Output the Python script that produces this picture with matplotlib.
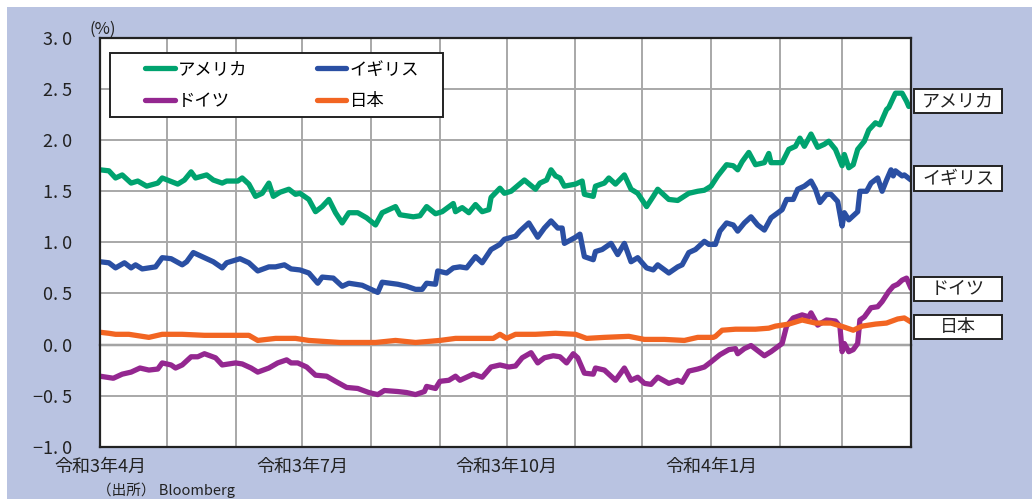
import matplotlib
matplotlib.use("Agg")
import matplotlib.dates as mdates
import matplotlib.pyplot as plt
import matplotlib.transforms as mtransforms
import pandas as pd
from matplotlib.patches import Rectangle
from matplotlib.ticker import FuncFormatter, MultipleLocator, NullFormatter

plt.rcParams["font.family"] = ["Noto Sans CJK JP", "DejaVu Sans"]

START = pd.Timestamp("2021-04-01")
END = pd.Timestamp("2022-04-01")

# days since 2021-04-01, 10-year government bond yields (%)
us_days = [0, 4, 7, 10, 14, 17, 21, 26, 28, 35, 38, 41, 43, 48, 51, 55, 57, 62, 64, 67,
           70, 73, 76, 78, 81, 85, 88, 90, 94, 97, 100, 103, 106, 109, 112, 116, 120, 124,
           127, 130, 133, 135, 141, 144, 147, 151, 154, 159, 160, 163, 166, 169, 172, 175,
           176, 180, 182, 185, 191, 196, 198, 201, 203, 205, 207, 209, 214, 217, 218, 222,
           223, 227, 229, 232, 236, 239, 242, 246, 249, 251, 256, 260, 265, 269, 272, 275,
           278, 282, 285, 287, 289, 292, 295, 299, 301, 302, 307, 310, 313, 315, 317, 320,
           323, 326, 328, 331, 334, 335, 337, 339, 341, 344, 346, 349, 351, 354, 355, 358,
           361, 363, 364]
us_yield = [1.71, 1.70, 1.63, 1.66, 1.58, 1.60, 1.55, 1.58, 1.63, 1.57, 1.61, 1.69, 1.63,
            1.66, 1.61, 1.58, 1.60, 1.60, 1.63, 1.57, 1.45, 1.48, 1.58, 1.45, 1.49, 1.52,
            1.47, 1.48, 1.42, 1.30, 1.35, 1.42, 1.29, 1.19, 1.29, 1.29, 1.24, 1.17, 1.29,
            1.32, 1.35, 1.27, 1.25, 1.26, 1.35, 1.28, 1.30, 1.38, 1.30, 1.34, 1.29, 1.37,
            1.30, 1.32, 1.44, 1.53, 1.48, 1.50, 1.61, 1.52, 1.58, 1.61, 1.71, 1.65, 1.63,
            1.55, 1.57, 1.60, 1.47, 1.45, 1.55, 1.58, 1.63, 1.57, 1.66, 1.52, 1.48, 1.35,
            1.45, 1.52, 1.42, 1.41, 1.48, 1.50, 1.51, 1.55, 1.65, 1.76, 1.75, 1.71, 1.79,
            1.88, 1.76, 1.78, 1.87, 1.78, 1.78, 1.91, 1.94, 2.02, 1.94, 2.06, 1.93, 1.96,
            1.99, 1.91, 1.75, 1.86, 1.73, 1.76, 1.91, 1.99, 2.10, 2.17, 2.15, 2.30, 2.32,
            2.46, 2.46, 2.38, 2.33]

uk_days = [0, 4, 7, 11, 14, 16, 19, 25, 28, 32, 37, 39, 42, 46, 51, 55, 57, 63, 67, 71,
           76, 79, 83, 86, 90, 94, 98, 100, 105, 109, 112, 118, 122, 125, 127, 134, 138,
           142, 145, 147, 151, 152, 156, 159, 162, 165, 169, 172, 176, 180, 182, 187, 189,
           193, 197, 200, 203, 206, 208, 209, 214, 216, 218, 222, 223, 226, 230, 233, 236,
           239, 242, 246, 249, 251, 256, 260, 262, 265, 268, 272, 274, 277, 279, 282, 285,
           287, 290, 293, 296, 299, 302, 307, 309, 312, 314, 317, 320, 322, 324, 327, 329,
           332, 334, 335, 337, 341, 342, 345, 347, 350, 352, 354, 356, 357, 358, 361, 362,
           365]
uk_yield = [0.81, 0.80, 0.75, 0.80, 0.75, 0.78, 0.74, 0.76, 0.85, 0.84, 0.78, 0.81, 0.90,
            0.86, 0.81, 0.75, 0.80, 0.84, 0.80, 0.72, 0.76, 0.76, 0.78, 0.74, 0.73, 0.70,
            0.60, 0.66, 0.65, 0.57, 0.60, 0.58, 0.54, 0.51, 0.61, 0.59, 0.57, 0.54, 0.54,
            0.60, 0.59, 0.72, 0.70, 0.75, 0.76, 0.75, 0.86, 0.80, 0.93, 0.98, 1.03, 1.06,
            1.11, 1.19, 1.05, 1.14, 1.21, 1.14, 1.14, 0.99, 1.05, 1.08, 0.86, 0.83, 0.91,
            0.93, 0.99, 0.88, 0.99, 0.81, 0.85, 0.75, 0.73, 0.78, 0.70, 0.76, 0.78, 0.90,
            0.93, 1.01, 0.98, 0.98, 1.11, 1.19, 1.17, 1.11, 1.19, 1.25, 1.17, 1.12, 1.24,
            1.32, 1.42, 1.42, 1.52, 1.55, 1.60, 1.52, 1.39, 1.47, 1.47, 1.40, 1.16, 1.29,
            1.22, 1.30, 1.50, 1.50, 1.58, 1.63, 1.50, 1.61, 1.71, 1.65, 1.70, 1.65, 1.66,
            1.61]

de_days = [0, 6, 10, 14, 18, 22, 26, 28, 32, 34, 37, 41, 44, 47, 52, 55, 61, 64, 68, 71,
           76, 80, 84, 86, 89, 93, 97, 102, 106, 111, 116, 121, 125, 128, 134, 138, 142,
           146, 147, 151, 153, 157, 160, 162, 165, 168, 172, 176, 180, 184, 187, 190, 194,
           197, 200, 204, 207, 210, 213, 215, 218, 222, 223, 227, 232, 236, 239, 242, 245,
           248, 251, 256, 260, 262, 265, 269, 272, 275, 279, 283, 286, 287, 290, 293, 296,
           299, 302, 307, 309, 312, 316, 319, 320, 323, 327, 331, 333, 334, 335, 337, 339,
           341, 342, 344, 347, 350, 352, 355, 357, 359, 361, 363, 365]
de_yield = [-0.31, -0.33, -0.29, -0.27, -0.23, -0.25, -0.24, -0.18, -0.20, -0.23, -0.20,
            -0.12, -0.12, -0.09, -0.13, -0.20, -0.18, -0.19, -0.23, -0.27, -0.23, -0.18,
            -0.15, -0.18, -0.18, -0.22, -0.30, -0.31, -0.36, -0.42, -0.43, -0.47, -0.49,
            -0.45, -0.46, -0.47, -0.49, -0.46, -0.41, -0.43, -0.36, -0.35, -0.31, -0.35,
            -0.32, -0.29, -0.32, -0.22, -0.20, -0.22, -0.21, -0.13, -0.08, -0.18, -0.13,
            -0.11, -0.12, -0.18, -0.09, -0.13, -0.28, -0.29, -0.23, -0.25, -0.35, -0.23,
            -0.35, -0.32, -0.38, -0.39, -0.32, -0.38, -0.35, -0.37, -0.26, -0.24, -0.22,
            -0.17, -0.10, -0.05, -0.04, -0.09, -0.04, -0.01, -0.06, -0.11, -0.07, 0.01,
            0.18, 0.26, 0.29, 0.27, 0.31, 0.19, 0.24, 0.23, 0.18, -0.07, 0.01, -0.07,
            -0.05, 0.01, 0.24, 0.27, 0.36, 0.37, 0.42, 0.52, 0.57, 0.59, 0.63, 0.65, 0.55]

jp_days = [0, 4, 7, 13, 22, 28, 37, 47, 58, 67, 71, 79, 88, 94, 108, 124, 133, 142, 153,
           160, 171, 177, 180, 183, 187, 196, 205, 214, 219, 227, 238, 245, 254, 263, 269,
           276, 277, 280, 286, 295, 301, 304, 310, 316, 322, 329, 332, 335, 339, 343, 349,
           354, 359, 362, 365]
jp_yield = [0.12, 0.11, 0.10, 0.10, 0.07, 0.10, 0.10, 0.09, 0.09, 0.09, 0.04, 0.06, 0.06,
            0.04, 0.02, 0.02, 0.04, 0.02, 0.04, 0.06, 0.06, 0.06, 0.10, 0.06, 0.10, 0.10,
            0.11, 0.10, 0.06, 0.07, 0.08, 0.05, 0.05, 0.04, 0.07, 0.07, 0.08, 0.14, 0.15,
            0.15, 0.16, 0.18, 0.20, 0.24, 0.21, 0.21, 0.19, 0.17, 0.14, 0.18, 0.20, 0.21,
            0.25, 0.26, 0.22]

countries = ["アメリカ", "イギリス", "ドイツ", "日本"]
colors = ["#00A36F", "#2A4FA3", "#942790", "#F26522"]
label_y = [2.38, 1.625, 0.546, 0.174]


def to_dates(days):
    return START + pd.to_timedelta(days, unit="D")


def reiwa_label(x, pos):
    d = mdates.num2date(x).replace(tzinfo=None)
    if d >= END.to_pydatetime():
        return ""
    return f"令和{d.year - 2018}年{d.month}月"


fig = plt.figure(figsize=(10.32, 4.99), dpi=100, facecolor="white")
fig.patches.append(Rectangle((7 / 1032, 0), 1, 1 - 7 / 499, transform=fig.transFigure,
                             facecolor="#B9C3E1", edgecolor="none", zorder=-10))
ax = fig.add_axes([100 / 1032, 52.3 / 499, 811 / 1032, 408.7 / 499])
ax.set_facecolor("white")

handles = {}
for name, days, values, color in zip(countries,
                                     [us_days, uk_days, de_days, jp_days],
                                     [us_yield, uk_yield, de_yield, jp_yield],
                                     colors):
    (line,) = ax.plot(to_dates(days), values, color=color, lw=3.8,
                      solid_capstyle="round", solid_joinstyle="round", zorder=3)
    handles[name] = line

ax.set_xlim(START, END)
ax.set_ylim(-1.0, 3.0)
ax.yaxis.set_major_locator(MultipleLocator(0.5))
ax.yaxis.set_major_formatter(FuncFormatter(lambda v, p: f"{v:.1f}".replace("-", "−").replace(".", ". ")))
ax.xaxis.set_major_locator(mdates.MonthLocator(bymonth=[1, 4, 7, 10]))
ax.xaxis.set_minor_locator(mdates.MonthLocator())
ax.xaxis.set_major_formatter(FuncFormatter(reiwa_label))
ax.tick_params(axis="x", which="both", length=0, pad=8, labelsize=13, colors="#222222")
ax.tick_params(axis="y", length=0, pad=20, labelsize=13, colors="#222222")
ax.grid(True, axis="x", which="both", color="#A8A8A8", lw=1.4, zorder=1)
ax.grid(True, axis="y", which="major", color="#A8A8A8", lw=1.4, zorder=1)
for side in ["left", "right", "top", "bottom"]:
    ax.spines[side].set_color("#222222")
    ax.spines[side].set_linewidth(1.6)
    ax.spines[side].set_zorder(4)

# zero line with small ticks at the labelled months
zero = ax.secondary_xaxis(0.25)
zero.xaxis.set_major_locator(mdates.MonthLocator(bymonth=[1, 4, 7, 10]))
zero.xaxis.set_major_formatter(NullFormatter())
zero.tick_params(length=4, width=1.4, color="#222222", direction="out")
zero.spines["bottom"].set_color("#222222")
zero.spines["bottom"].set_linewidth(1.6)

# legend: row 1 アメリカ / イギリス, row 2 ドイツ / 日本
order = ["アメリカ", "ドイツ", "イギリス", "日本"]
ax.add_patch(Rectangle((0.0123, 0.806), 0.411, 0.157, transform=ax.transAxes,
                       facecolor="white", edgecolor="#222222", lw=1.4, zorder=5))
leg = ax.legend([handles[k] for k in order], order, ncol=2, loc="upper left",
                bbox_to_anchor=(0.0555, 0.945), frameon=False, fontsize=12.5,
                borderpad=0, borderaxespad=0, handlelength=1.7, handletextpad=0.2,
                columnspacing=4.0, labelspacing=0.8)
leg.set_zorder(6)

# right-hand labels
blend = mtransforms.blended_transform_factory(ax.transAxes, ax.transData)
for name, y in zip(countries, label_y):
    ax.add_patch(Rectangle((1.004, y - 0.118), 0.108, 0.236, transform=blend,
                           facecolor="white", edgecolor="#222222", lw=1.4, clip_on=False))
    ax.text(1.058, y, name, transform=blend, ha="center", va="center", fontsize=13,
            color="#222222")

ax.text(-0.013, 1.0, "(%)", transform=ax.transAxes, ha="left", va="bottom",
        fontsize=12, color="#222222")
fig.text(97 / 1032, 1 / 499, "（出所） Bloomberg", ha="left", va="bottom",
         fontsize=10.5, color="#222222")

fig.savefig("out.png", dpi=100, facecolor=fig.get_facecolor())
